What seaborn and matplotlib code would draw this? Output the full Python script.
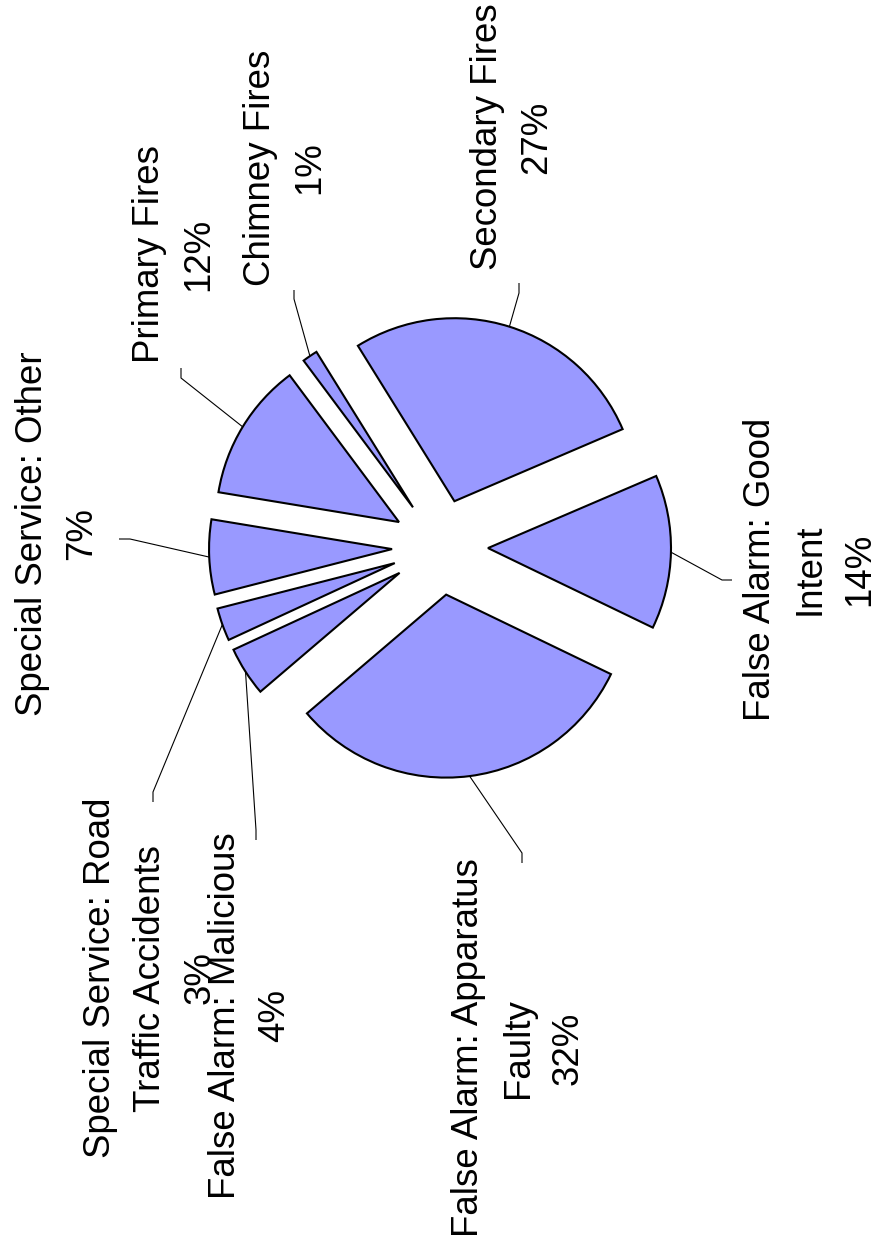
import numpy as np
import matplotlib
matplotlib.use("Agg")
import matplotlib.pyplot as plt
import seaborn as sns

# ---- data (clockwise from top) ----
categories = ["Chimney Fires", "Secondary Fires", "False Alarm: Good Intent",
              "False Alarm: Apparatus Faulty", "False Alarm: Malicious",
              "Special Service: Road Traffic Accidents",
              "Special Service: Other", "Primary Fires"]
label_lines = ["Chimney Fires", "Secondary Fires", "False Alarm: Good\nIntent",
               "False Alarm: Apparatus\nFaulty", "False Alarm: Malicious",
               "Special Service: Road\nTraffic Accidents",
               "Special Service: Other", "Primary Fires"]
shares = [1.35, 27.4, 13.6, 31.6, 4.35, 2.9, 6.6, 12.2]

# ---- layout (pixels in the 880x1258 figure) ----
W, H = 880, 1258
CX, CY, RPX = 440, 547, 183          # pie centre and radius in pixels
label_pos = [(285, 168), (512, 137), (810, 569), (518, 1048),
             (250, 1016), (150, 978), (57, 534), (174, 254)]
elbows = [((294, 299), (294, 290)), ((519, 293), (519, 283)),
          ((722, 580), (732, 580)), ((522, 853), (522, 863)),
          ((256, 830), (256, 840)), ((153, 792), (153, 802)),
          ((130, 539), (119, 539)), ((181, 378), (181, 368))]

sns.set_theme(style="white")
plt.rcParams["font.family"] = ["Liberation Sans", "DejaVu Sans"]

fig = plt.figure(figsize=(W / 100, H / 100), dpi=100)
ax = fig.add_axes([0, 0, 1, 1])

wedges, _ = ax.pie(shares, explode=[48 / RPX] * len(shares), startangle=126.7,
                   counterclock=False, colors=["#9999FF"],
                   wedgeprops=dict(edgecolor="black", linewidth=1.5))

ax.set_xlim(-CX / RPX, (W - CX) / RPX)
ax.set_ylim(-(H - CY) / RPX, CY / RPX)
ax.set_aspect("auto")
ax.axis("off")


def px2data(p):
    return ((p[0] - CX) / RPX, (CY - p[1]) / RPX)


total = sum(shares)
for w, txt, share, pos, (elb, end) in zip(wedges, label_lines, shares, label_pos, elbows):
    mid = np.deg2rad((w.theta1 + w.theta2) / 2)
    sx = w.center[0] + w.r * np.cos(mid)
    sy = w.center[1] + w.r * np.sin(mid)
    ex, ey = px2data(elb)
    tx, ty = px2data(end)
    ax.plot([sx, ex, tx], [sy, ey, ty], color="black", lw=0.8, solid_capstyle="butt")
    pct = share / total * 100
    lx, ly = px2data(pos)
    ax.text(lx, ly, f"{txt}\n{pct:.0f}%", rotation=90, ha="center", va="center",
            multialignment="center", fontsize=26.4, linespacing=1.55, color="black")

fig.savefig("out.png", dpi=100, facecolor="white")
